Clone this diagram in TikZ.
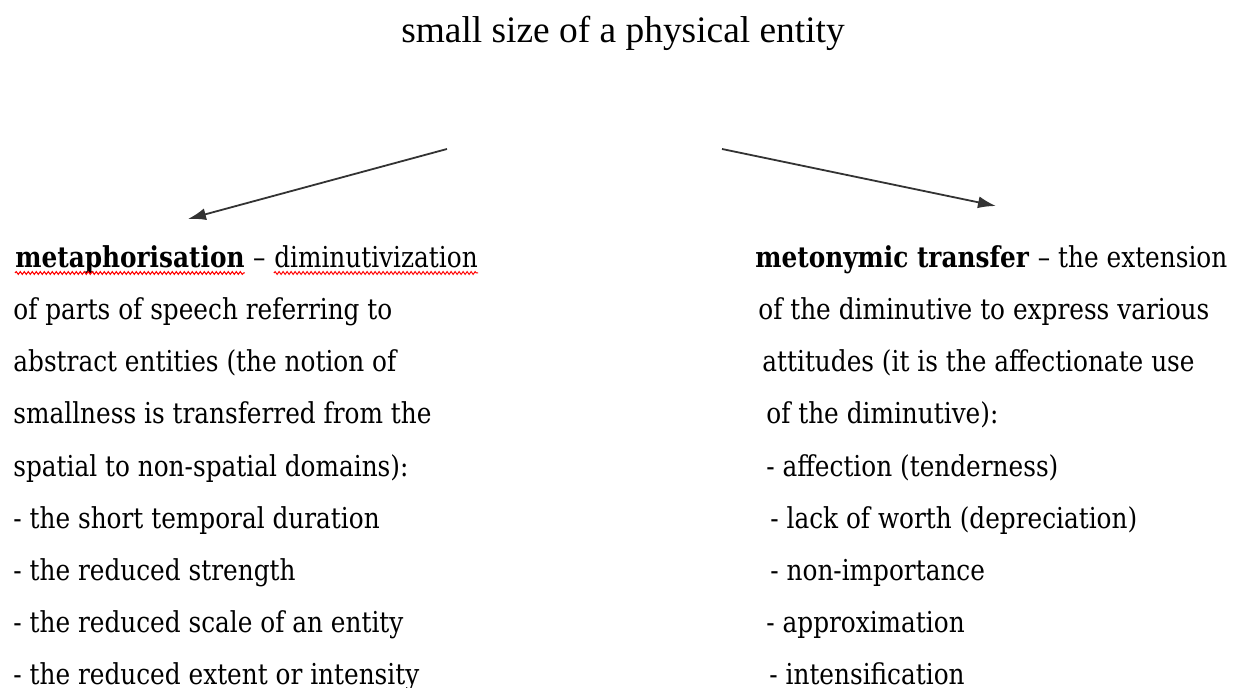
\documentclass[tikz,border=0pt]{standalone}
\usepackage{fontspec}
\setmainfont{Liberation Serif}
\newfontfamily\bodyfont[FakeStretch=0.86]{DejaVu Serif}
\usetikzlibrary{arrows.meta,decorations.pathmorphing}

\begin{document}
\begin{tikzpicture}[x=0.5pt,y=-0.5pt]
	\tikzset{>={Latex[length=9pt,width=6pt]}}
	\tikzset{txt/.style={anchor=base west,inner sep=0pt,font=\bodyfont\fontsize{14.4}{17}\selectfont}}
	\tikzset{pointer/.style={->,line width=0.9pt,draw=black!80,fill=black!80}}
	\tikzset{spell/.style={draw=red,line width=0.5pt,decorate,decoration={snake,amplitude=0.7pt,segment length=2pt}}}
	\useasboundingbox (0,0) rectangle (1234,688);
	
	\node[anchor=base,inner sep=0pt,font=\fontsize{18.7}{22}\selectfont] (title) at (623,43) {small size of a physical entity};
	
	\coordinate (lfrom) at (447,149);
	\coordinate (lto) at (188,219);
	\coordinate (rfrom) at (722,149);
	\coordinate (rto) at (996,206);
	\draw[pointer] (lfrom) -- (lto);
	\draw[pointer] (rfrom) -- (rto);
	
	% left column
	\node[txt] (lword) at (15,268) {\textbf{metaphorisation}};
	\node[txt] (ldash) at (lword.base east) {~–~\null};
	\node[txt] (lterm) at (ldash.base east) {diminutivization};
	\draw[spell] ([yshift=-2.5pt]lword.base west) -- ([yshift=-2.5pt]lword.base east);
	\draw[spell] ([yshift=-2.5pt]lterm.base west) -- ([yshift=-2.5pt]lterm.base east);
	\node[txt] (l2) at (13,320) {of parts of speech referring to};
	\node[txt] (l3) at (13,372) {abstract entities (the notion of};
	\node[txt] (l4) at (13,424) {smallness is transferred from the};
	\node[txt] (l5) at (13,476) {spatial to non-spatial domains):};
	\node[txt] (l6) at (13,528) {- the short temporal duration};
	\node[txt] (l7) at (13,580) {- the reduced strength};
	\node[txt] (l8) at (13,632) {- the reduced scale of an entity};
	\node[txt] (l9) at (13,684) {- the reduced extent or intensity};
	
	% right column
	\node[txt] (rword) at (755,268) {\textbf{metonymic transfer}};
	\node[txt] (rrest) at (rword.base east) {~– the extension};
	\node[txt] (r2) at (758,320) {of the diminutive to express various};
	\node[txt] (r3) at (762,372) {attitudes (it is the affectionate use};
	\node[txt] (r4) at (766,424) {of the diminutive):};
	\node[txt] (r5) at (766,476) {- affection (tenderness)};
	\node[txt] (r6) at (770,528) {- lack of worth (depreciation)};
	\node[txt] (r7) at (770,580) {- non-importance};
	\node[txt] (r8) at (766,632) {- approximation};
	\node[txt] (r9) at (769,684) {- intensification};
	
\end{tikzpicture}
\end{document}
